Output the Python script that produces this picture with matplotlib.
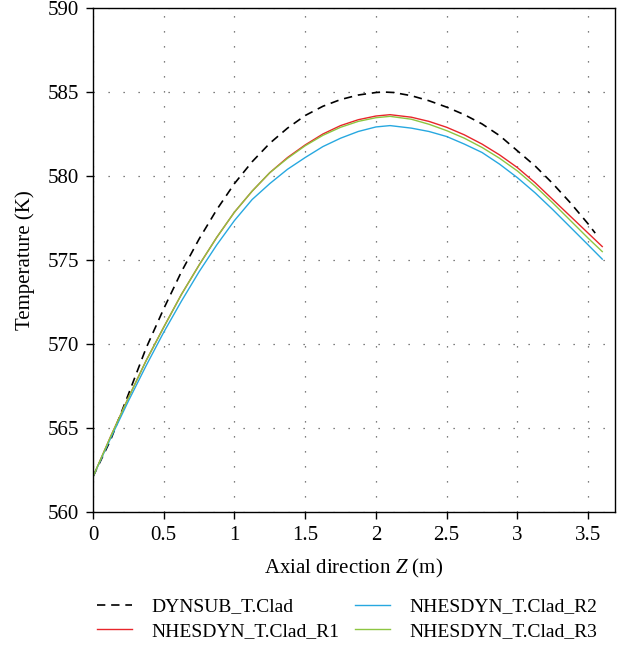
import numpy as np
import matplotlib
matplotlib.use('Agg')
from matplotlib import pyplot as plt
from matplotlib.ticker import FormatStrFormatter

plt.rcParams['font.family'] = ['Liberation Serif', 'DejaVu Serif']
plt.rcParams['mathtext.fontset'] = 'custom'
plt.rcParams['mathtext.rm'] = 'Liberation Serif'
plt.rcParams['mathtext.it'] = 'Liberation Serif:italic'

# axial positions (m) and cladding temperatures (K)
z_dyn = [0, 0.125, 0.25, 0.375, 0.5, 0.625, 0.75, 0.875, 1.0, 1.125, 1.25, 1.375,
         1.5, 1.625, 1.75, 1.875, 2.0, 2.05, 2.125, 2.25, 2.375, 2.5, 2.625,
         2.75, 2.875, 3.0, 3.125, 3.25, 3.375, 3.5, 3.55]
t_dyn = [562.1, 564.3, 567.0, 569.75, 572.1, 574.3, 576.25, 578.0, 579.55, 580.85,
         581.95, 582.85, 583.6, 584.15, 584.55, 584.82, 584.97, 585.0, 584.97, 584.78,
         584.48, 584.1, 583.65, 583.1, 582.4, 581.5, 580.6, 579.55, 578.4, 577.15, 576.6]

z_nh = [0, 0.125, 0.25, 0.375, 0.5, 0.625, 0.75, 0.875, 1.0, 1.125, 1.25, 1.375,
        1.5, 1.625, 1.75, 1.875, 2.0, 2.1, 2.25, 2.375, 2.5, 2.625, 2.75, 2.875,
        3.0, 3.125, 3.25, 3.375, 3.5, 3.6]
t_r1 = [562.1, 564.5, 566.8, 569.0, 571.0, 572.95, 574.7, 576.35, 577.85, 579.1,
        580.2, 581.1, 581.85, 582.5, 583.0, 583.35, 583.57, 583.65, 583.5, 583.25,
        582.9, 582.45, 581.9, 581.25, 580.5, 579.6, 578.6, 577.6, 576.6, 575.8]
t_r2 = [562.1, 564.4, 566.6, 568.7, 570.7, 572.55, 574.3, 575.9, 577.35, 578.6,
        579.55, 580.4, 581.1, 581.75, 582.25, 582.65, 582.92, 583.0, 582.85, 582.65,
        582.35, 581.9, 581.4, 580.7, 579.9, 579.0, 578.0, 576.95, 575.9, 575.05]
t_r3 = [562.1, 564.5, 566.8, 569.0, 571.0, 572.95, 574.7, 576.35, 577.85, 579.1,
        580.2, 581.05, 581.8, 582.42, 582.9, 583.25, 583.47, 583.55, 583.38, 583.08,
        582.7, 582.25, 581.7, 581.05, 580.3, 579.4, 578.4, 577.35, 576.3, 575.5]

fig = plt.figure(figsize=(6.2, 6.53), dpi=100)
ax = fig.add_axes([93/620, 1 - 512/653, (615-93)/620, (512-8)/653])

ax.plot(z_dyn, t_dyn, '--', color='black', linewidth=1.2, dashes=(5, 3.5),
        label='DYNSUB_T.Clad')
ax.plot(z_nh, t_r1, '-', color='#e8262b', linewidth=1.0, label='NHESDYN_T.Clad_R1')
ax.plot(z_nh, t_r2, '-', color='#27a8e0', linewidth=1.0, label='NHESDYN_T.Clad_R2')
ax.plot(z_nh, t_r3, '-', color='#8dc641', linewidth=1.0, label='NHESDYN_T.Clad_R3')

ax.set_xlim(0, 3.69)
ax.set_ylim(560, 590)
ax.set_xticks(np.arange(0, 3.6, 0.5))
ax.set_yticks(np.arange(560, 591, 5))
ax.xaxis.set_major_formatter(FormatStrFormatter('%g'))
ax.grid(True, color='#555555', linestyle=(0, (1, 11)), linewidth=0.9)
ax.tick_params(direction='out', length=5, width=1, labelsize=15, colors='black', pad=5)
for s in ax.spines.values():
    s.set_linewidth(1.0)

ax.set_xlabel('Axial direction $Z$ (m)', fontsize=15, labelpad=9)
ax.set_ylabel('Temperature (K)', fontsize=15, labelpad=9)

fig.legend(loc='upper left', bbox_to_anchor=(97/620, 1 - 598/653), ncol=2,
           frameon=False, fontsize=14, handlelength=1.8, columnspacing=0.8,
           labelspacing=0.35, handletextpad=1.0, borderpad=0, borderaxespad=0)

fig.savefig('out.png', dpi=100)
